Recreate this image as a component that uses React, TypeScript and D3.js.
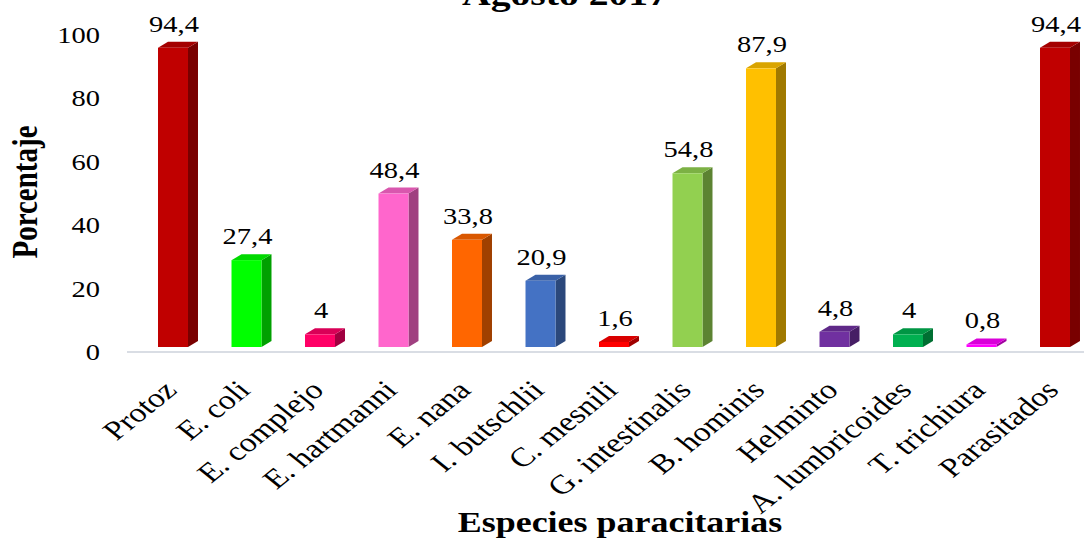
import React from "react";
import * as d3 from "d3";

const categories = [
  "Protoz", "E. coli", "E. complejo", "E. hartmanni", "E. nana", "I. butschlii",
  "C. mesnili", "G. intestinalis", "B. hominis", "Helminto", "A. lumbricoides",
  "T. trichiura", "Parasitados",
];
const values = [94.4, 27.4, 4, 48.4, 33.8, 20.9, 1.6, 54.8, 87.9, 4.8, 4, 0.8, 94.4];
const valueLabels = ["94,4", "27,4", "4", "48,4", "33,8", "20,9", "1,6", "54,8", "87,9", "4,8", "4", "0,8", "94,4"];
const colors = [
  "#C00000", "#00FF00", "#FF0066", "#FF66CC", "#FF6600", "#4472C4",
  "#FF0000", "#92D050", "#FFC000", "#7030A0", "#00B050", "#FF00FF", "#C00000",
];
const yTicks = [0, 20, 40, 60, 80, 100];
const title = "Agosto 2017";
const yTitle = "Porcentaje";
const xTitle = "Especies paracitarias";

const W = 1084;
const H = 540;
const SX = 1.24; // horizontal stretch of the original picture
const DX = 10;
const DY = 6;
const FONT = "Liberation Serif, Times New Roman, serif";

export default function App() {
  const x = d3
    .scaleBand<string>()
    .domain(categories)
    .range([136.25, 1091.75])
    .paddingInner(0.592)
    .paddingOuter(0.296);
  const y = d3.scaleLinear().domain([0, 100]).range([352, 35]);
  const bw = x.bandwidth();
  const lift = 5;

  return (
    <svg
      width={W}
      height={H}
      style={{ position: "absolute", left: 0, top: 0, background: "#fff" }}
      fontFamily={FONT}
    >
      <rect x={0} y={0} width={W} height={H} fill="#fff" />
      {/* title */}
      <text
        transform={`translate(565,5) scale(${SX},1)`}
        textAnchor="middle"
        fontWeight="bold"
        fontSize={32}
        fontFamily={FONT}
        fill="#000"
      >
        {title}
      </text>
      {/* axis line */}
      <line x1={127} x2={1084} y1={352} y2={352} stroke="#D9DDE4" strokeWidth={2} />
      {/* y tick labels */}
      {yTicks.map((t) => (
        <text
          key={t}
          transform={`translate(100,${y(t)}) scale(${SX},1)`}
          textAnchor="end"
          dy="0.35em"
          fontSize={23}
          fontFamily={FONT}
          fill="#000"
        >
          {t}
        </text>
      ))}
      {/* bars */}
      {categories.map((c, i) => {
        const x0 = x(c)!;
        const x1 = x0 + bw;
        const yb = y(0) - lift;
        const yt = y(values[i]) - lift;
        const front = colors[i];
        const side = d3.color(front)!.darker(1.3).formatHex();
        const top = d3.color(front)!.darker(0.45).formatHex();
        return (
          <g key={c}>
            <polygon
              points={`${x1},${yt} ${x1 + DX},${yt - DY} ${x1 + DX},${yb - DY} ${x1},${yb}`}
              fill={side}
            />
            <polygon
              points={`${x0},${yt} ${x1},${yt} ${x1 + DX},${yt - DY} ${x0 + DX},${yt - DY}`}
              fill={top}
            />
            <rect x={x0} y={yt} width={bw} height={Math.max(0, yb - yt)} fill={front} />
            <text
              transform={`translate(${x0 + bw / 2 + 1},${yt - 16}) scale(${SX},1)`}
              textAnchor="middle"
              fontSize={23}
              fontFamily={FONT}
              fill="#000"
            >
              {valueLabels[i]}
            </text>
          </g>
        );
      })}
      {/* x labels */}
      {categories.map((c) => {
        const cx = x(c)! + bw / 2;
        return (
          <text
            key={c}
            transform={`translate(${cx - 3},385) scale(${SX},1) rotate(-45)`}
            textAnchor="end"
            dy="0.35em"
            fontSize={27}
            fontFamily={FONT}
            fill="#000"
          >
            {c}
          </text>
        );
      })}
      {/* y title */}
      <text
        transform={`translate(37,192) scale(${SX},1) rotate(-90)`}
        textAnchor="middle"
        fontWeight="bold"
        fontSize={29}
        fontFamily={FONT}
        fill="#000"
      >
        {yTitle}
      </text>
      {/* x title */}
      <text
        transform={`translate(620,532) scale(${SX},1)`}
        textAnchor="middle"
        fontWeight="bold"
        fontSize={29}
        fontFamily={FONT}
        fill="#000"
      >
        {xTitle}
      </text>
    </svg>
  );
}
